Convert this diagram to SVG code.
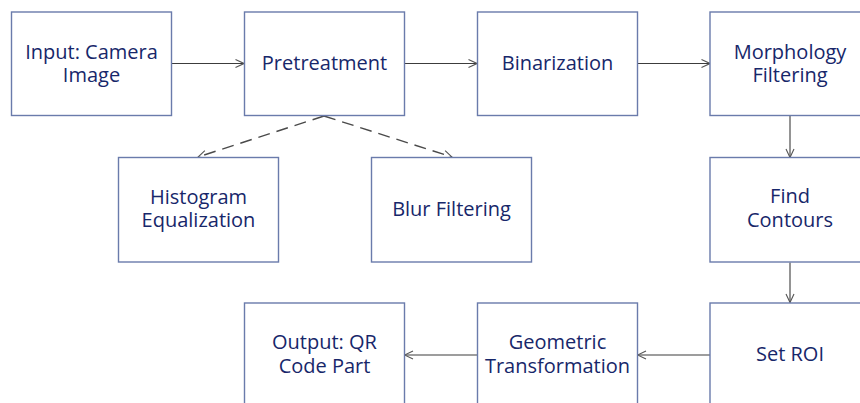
<svg xmlns="http://www.w3.org/2000/svg" width="860" height="403" viewBox="0 0 860 403">
  <style>
    .box { fill: #ffffff; stroke: #6a7bab; stroke-width: 1.4; }
    .lbl { font-family: "Open Sans", "Noto Sans", "Liberation Sans", sans-serif; font-size: 20px; fill: #17276a; text-anchor: middle; }
    .flow { stroke: #3c3c3c; stroke-width: 1.1; fill: none; marker-end: url(#chev); }
    .dash { stroke: #4a4a4a; stroke-width: 1.4; fill: none; stroke-dasharray: 12 7; marker-end: url(#chev); }
  </style>
  <defs>
    <marker id="chev" viewBox="0 0 10 10" refX="9.5" refY="5" markerWidth="10" markerHeight="10" markerUnits="userSpaceOnUse" orient="auto">
      <path d="M1,1 L9.5,5 L1,9" fill="none" stroke="#555555" stroke-width="1.1"/>
    </marker>
  </defs>
  <rect width="860" height="403" fill="#ffffff"/>

  <g id="connectors">
    <line class="flow" x1="171.5" y1="63.5" x2="244" y2="63.5"/>
    <line class="flow" x1="404.5" y1="63.5" x2="477" y2="63.5"/>
    <line class="flow" x1="637.5" y1="63.5" x2="710" y2="63.5"/>
    <line class="flow" x1="790" y1="115.5" x2="790" y2="157.5"/>
    <line class="flow" x1="790" y1="262.5" x2="790" y2="302.5"/>
    <line class="flow" x1="710" y1="355" x2="637.5" y2="355"/>
    <line class="flow" x1="477" y1="355" x2="404.5" y2="355"/>
    <line class="dash" x1="324" y1="116" x2="198" y2="157"/>
    <line class="dash" x1="324" y1="116" x2="452" y2="157"/>
  </g>

  <g id="input">
    <rect class="box" x="11.5" y="12" width="160" height="103.5"/>
    <text class="lbl" y="58.5"><tspan x="91.5">Input: Camera</tspan><tspan x="91.5" dy="23.5">Image</tspan></text>
  </g>
  <g id="pretreatment">
    <rect class="box" x="244.5" y="12" width="160" height="103.5"/>
    <text class="lbl" x="324.5" y="70">Pretreatment</text>
  </g>
  <g id="binarization">
    <rect class="box" x="477.5" y="12" width="160" height="103.5"/>
    <text class="lbl" x="557.5" y="70">Binarization</text>
  </g>
  <g id="morphology">
    <rect class="box" x="710" y="12" width="160" height="103.5"/>
    <text class="lbl" y="58.5"><tspan x="790">Morphology</tspan><tspan x="790" dy="23.5">Filtering</tspan></text>
  </g>
  <g id="histogram">
    <rect class="box" x="118.5" y="157.5" width="160" height="104.5"/>
    <text class="lbl" y="203.5"><tspan x="198.5">Histogram</tspan><tspan x="198.5" dy="23.5">Equalization</tspan></text>
  </g>
  <g id="blur">
    <rect class="box" x="371.5" y="157.5" width="160" height="104.5"/>
    <text class="lbl" x="451.5" y="215.5">Blur Filtering</text>
  </g>
  <g id="contours">
    <rect class="box" x="710" y="157.5" width="160" height="104.5"/>
    <text class="lbl" y="203"><tspan x="790">Find</tspan><tspan x="790" dy="23.5">Contours</tspan></text>
  </g>
  <g id="output">
    <rect class="box" x="244.5" y="303" width="160" height="110"/>
    <text class="lbl" y="349"><tspan x="324.5">Output: QR</tspan><tspan x="324.5" dy="23.5">Code Part</tspan></text>
  </g>
  <g id="geometric">
    <rect class="box" x="477.5" y="303" width="160" height="110"/>
    <text class="lbl" y="349"><tspan x="557.5">Geometric</tspan><tspan x="557.5" dy="23.5">Transformation</tspan></text>
  </g>
  <g id="roi">
    <rect class="box" x="710" y="303" width="160" height="110"/>
    <text class="lbl" x="790" y="361">Set ROI</text>
  </g>
</svg>
